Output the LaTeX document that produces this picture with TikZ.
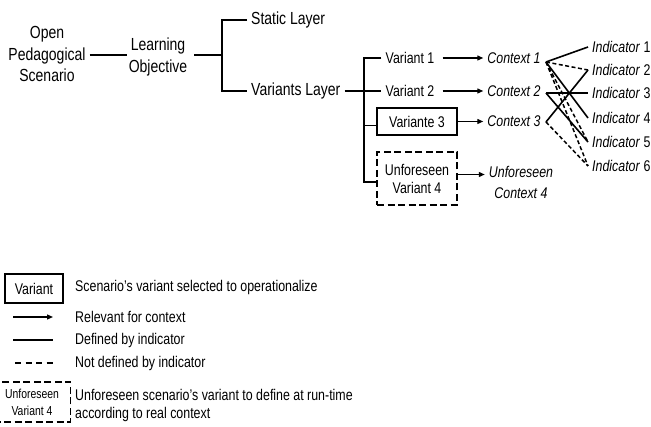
\documentclass[tikz,border=0pt]{standalone}
\usepackage{fontspec}
\setmainfont{Liberation Sans}[FakeStretch=0.8]
\usetikzlibrary{arrows.meta}

\begin{document}
\begin{tikzpicture}[x=1pt,y=-1pt,
  every node/.style={inner sep=4pt, text=black},
  big/.style={font=\fontsize{17.5}{21.5}\selectfont, align=center},
  lbl/.style={font=\fontsize{15.5}{18}\selectfont},
  ctx/.style={font=\fontsize{15.5}{21}\selectfont\itshape, align=center},
  ind/.style={font=\fontsize{15.5}{18}\selectfont, anchor=west},
  selbox/.style={lbl, draw, line width=1.9pt, minimum width=80pt, minimum height=27pt},
  openbox/.style={lbl, align=center, draw, line width=1.9pt,
    dash pattern=on 7pt off 3.5pt, minimum width=80pt, minimum height=53pt},
  thinln/.style={line width=1.2pt},
  midln/.style={line width=1.6pt},
  thickln/.style={line width=2.3pt, line join=miter},
  indln/.style={line width=1.6pt},
  notdef/.style={line width=1.5pt, dash pattern=on 4pt off 2.5pt},
  arr/.style={line width=1.3pt, -{Triangle[length=6pt,width=5pt]}}
]
\useasboundingbox (0,0) rectangle (651,427);

% --- scenario hierarchy ---
\node[big] (scen) at (47,54) {Open\\Pedagogical\\Scenario};
\node[big] (lo) at (158,57) {Learning\\Objective};
\node[big, anchor=west] (static) at (247,20) {Static Layer};
\node[big, anchor=west] (varl) at (247,91) {Variants Layer};
\coordinate (b1) at (222,55);

\draw[thinln] (scen.east |- b1) -- ([xshift=2pt]lo.west |- b1);
\draw[thickln] ([xshift=3pt]lo.east |- b1) -- (b1);
\draw[thickln] (static.west) -| (b1) |- (varl.west);

% --- variants ---
\node[lbl] (var1) at (410,58) {Variant 1};
\node[lbl] (var2) at (410,91) {Variant 2};
\node[selbox] (var3) at (417,121.5) {Variante 3};
\node[openbox] (var4) at (417,178.5) {Unforeseen\\Variant 4};

\coordinate (vt) at (364,58);
\coordinate (vb) at (364,182);
\draw[thinln] (varl.east) -- (varl.east -| var2.west);
\draw[midln] (var1.west) -- (vt) -- (vb) -- (vb -| var4.west);
\draw[midln] ([yshift=-4pt]var3.west) -- ([yshift=-4pt]var3.west -| vt);

% --- contexts ---
\node[ctx] (ctx1) at (514,58) {Context 1};
\node[ctx] (ctx2) at (514,91) {Context 2};
\node[ctx] (ctx3) at (514,121.5) {Context 3};
\node[ctx] (ctx4) at (521,182) {Unforeseen\\Context 4};

\draw[arr] ([xshift=4pt]var1.east) -- (ctx1.west);
\draw[arr] ([xshift=4pt]var2.east) -- (ctx2.west);
\draw[arr] (var3.east) -- (ctx3.west);
\draw[arr] ([yshift=4pt]var4.east) -- ([yshift=4pt]var4.east -| ctx4.west);

% --- indicators ---
\node[ind] (i1) at (588,47) {\textit{Indicator} 1};
\node[ind] (i2) at (588,70) {\textit{Indicator} 2};
\node[ind] (i3) at (588,93) {\textit{Indicator} 3};
\node[ind] (i4) at (588,118) {\textit{Indicator} 4};
\node[ind] (i5) at (588,142) {\textit{Indicator} 5};
\node[ind] (i6) at (588,166) {\textit{Indicator} 6};

\coordinate (c1) at (546,62);
\coordinate (c2) at (546,93);
\coordinate (c3) at (546,122);

\draw[indln] (c1) -- (i1.west);
\draw[notdef] (c1) -- (i2.west);
\draw[indln] (c1) -- (i4.west);
\draw[notdef] (c1) -- (i5.west);
\draw[notdef] (c1) -- (i6.west);
\draw[indln] (c2) -- (i3.west);
\draw[indln] (c2) -- (i5.west);
\draw[indln] (c3) -- (i2.west);
\draw[notdef] (c3) -- (i6.west);

% --- legend ---
\node[lbl, draw, line width=1.9pt, minimum width=58pt, minimum height=29pt] (lv) at (34,288.5) {Variant};
\node[lbl, anchor=west] (lt1) at (71,287) {Scenario's variant selected to operationalize};

\coordinate (la1) at (13,317);
\coordinate (la2) at (53,317);
\draw[arr] (la1) -- (la2);
\node[lbl, anchor=west] (lt2) at (71,317) {Relevant for context};

\coordinate (ls1) at (13,340);
\coordinate (ls2) at (53,340);
\draw[indln] (ls1) -- (ls2);
\node[lbl, anchor=west] (lt3) at (71,340) {Defined by indicator};

\coordinate (ld1) at (15,363);
\coordinate (ld2) at (55,363);
\draw[line width=1.5pt, dash pattern=on 6pt off 4.5pt] (ld1) -- (ld2);
\node[lbl, anchor=west] (lt4) at (71,363) {Not defined by indicator};

\node[draw, line width=1.9pt, dash pattern=on 7pt off 3.5pt, align=center,
  font=\fontsize{13}{17}\selectfont, minimum width=77pt, minimum height=40pt] (lu) at (32,402) {Unforeseen\\Variant 4};
\node[lbl, anchor=west, align=left] (lt5) at (71,405) {Unforeseen scenario's variant to define at run-time\\according to real context};
\end{tikzpicture}
\end{document}
